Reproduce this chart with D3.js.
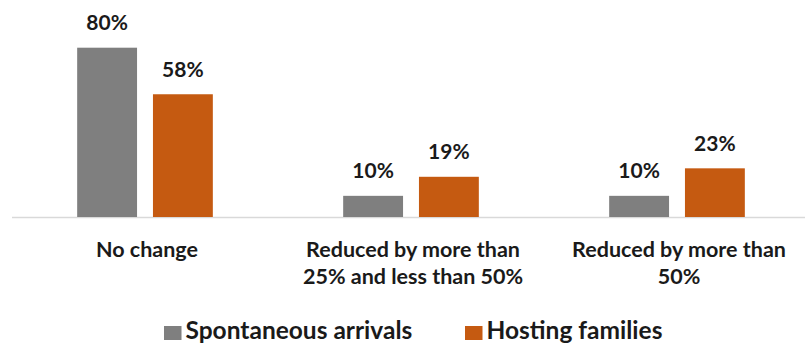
<!DOCTYPE html>
<html>
<head>
<meta charset="utf-8">
<script src="https://cdn.jsdelivr.net/npm/d3@7"></script>
<style>
  html, body { margin: 0; padding: 0; background: #fff; }
  svg { display: block; }
  text { font-family: Lato, "Open Sans", "Liberation Sans", sans-serif; font-weight: bold; fill: #1a1a1a; }
</style>
</head>
<body>
<svg id="chart" width="805" height="344"></svg>
<script>
// Category labels (each entry is a list of lines)
const categories = ["No change", "Reduced by more than 25% and less than 50%", "Reduced by more than 50%"];
const categoryLines = [
  ["No change"],
  ["Reduced by more than", "25% and less than 50%"],
  ["Reduced by more than", "50%"]
];
const seriesNames = ["Spontaneous arrivals", "Hosting families"];
const spontaneousArrivals = [80, 10, 10];
const hostingFamilies = [58, 19, 23];
const seriesColors = ["#7f7f7f", "#c55a11"];

const values = [spontaneousArrivals, hostingFamilies];
const svg = d3.select("#chart");

const baseY = 217;
const x0 = d3.scaleBand().domain(categories).range([12, 810]).paddingInner(0.49).paddingOuter(0.245);
const x1 = d3.scaleBand().domain(seriesNames).range([0, x0.bandwidth()]).paddingInner(0.21).paddingOuter(0);
const y = d3.scaleLinear().domain([0, 80]).range([baseY, 47.7]);

// Baseline
svg.append("line")
  .attr("x1", 12).attr("x2", 805)
  .attr("y1", baseY + 0.5).attr("y2", baseY + 0.5)
  .attr("stroke", "#d9d9d9").attr("stroke-width", 1.5);

// Bars and value labels
const groups = svg.selectAll("g.group")
  .data(categories)
  .join("g")
  .attr("class", "group")
  .attr("transform", d => `translate(${x0(d)},0)`);

seriesNames.forEach((s, si) => {
  groups.append("rect")
    .attr("x", x1(s))
    .attr("y", (d, i) => y(values[si][i]))
    .attr("width", x1.bandwidth())
    .attr("height", (d, i) => baseY - y(values[si][i]))
    .attr("fill", seriesColors[si]);

  groups.append("text")
    .attr("x", x1(s) + x1.bandwidth() / 2)
    .attr("y", (d, i) => y(values[si][i]) - 17.5)
    .attr("text-anchor", "middle")
    .attr("font-size", 21)
    .attr("fill", "#000")
    .text((d, i) => values[si][i] + "%");
});

// Category axis labels
groups.each(function(d, i) {
  const t = d3.select(this).append("text")
    .attr("text-anchor", "middle")
    .attr("font-size", 21.5);
  categoryLines[i].forEach((line, li) => {
    t.append("tspan")
      .attr("x", x0.bandwidth() / 2 + 2)
      .attr("y", 256.5 + li * 27)
      .text(line);
  });
});

// Legend
const legendItems = [
  { name: seriesNames[0], color: seriesColors[0], x: 164 },
  { name: seriesNames[1], color: seriesColors[1], x: 465 }
];
const lg = svg.selectAll("g.legend").data(legendItems).join("g")
  .attr("class", "legend")
  .attr("transform", d => `translate(${d.x},0)`);
lg.append("rect").attr("x", 0).attr("y", 326).attr("width", 17.5).attr("height", 14).attr("fill", d => d.color);
lg.append("text").attr("x", 21.5).attr("y", 338.5).attr("font-size", 24.5).text(d => d.name);
</script>
</body>
</html>
